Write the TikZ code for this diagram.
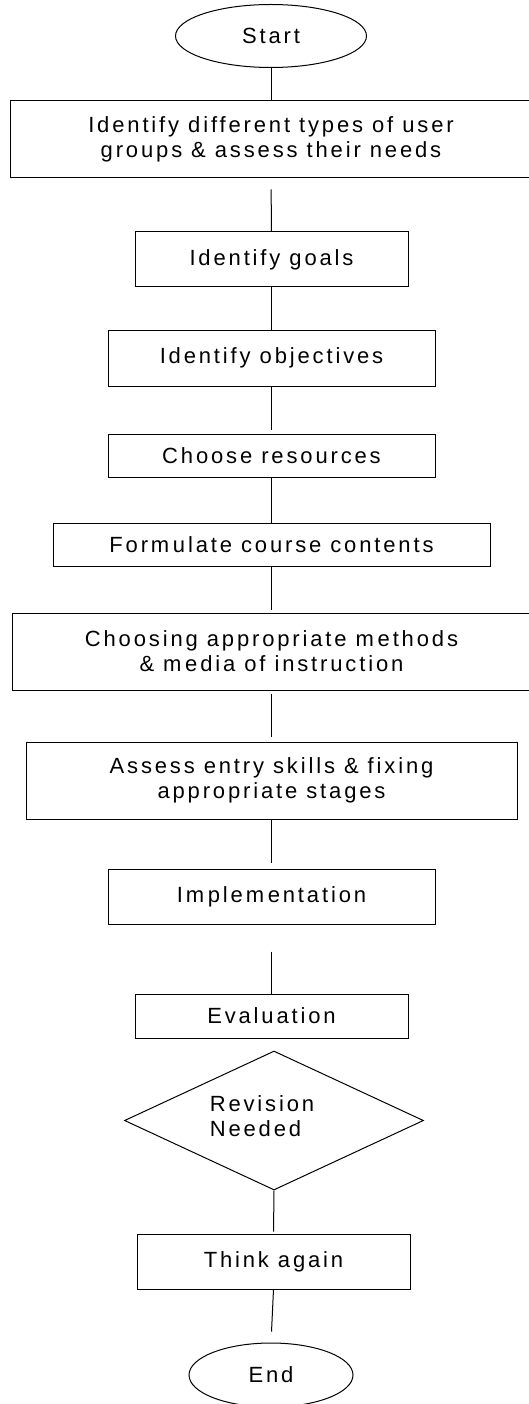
\documentclass[tikz,border=0pt]{standalone}
\usepackage{fontspec}
\setmainfont{Liberation Sans}[LetterSpace=13]
\usetikzlibrary{shapes.geometric}

\begin{document}
\begin{tikzpicture}[x=1pt, y=-1pt,
  stepbox/.style={draw, line width=1pt, inner sep=0pt, align=center,
                  font=\fontsize{22}{25}\selectfont},
  term/.style={stepbox, ellipse},
  ask/.style={stepbox, diamond},
  ln/.style={line width=1pt}
]
  \useasboundingbox (0,0) rectangle (528,1404);
  \node[term, minimum width=191pt, minimum height=63pt] (start) at (271,36) {Start};
  \node[stepbox, minimum width=522pt, minimum height=77pt] (users) at (271,139.5)
    {Identify different types of user\\groups \& assess their needs};
  \node[stepbox, minimum width=273pt, minimum height=55pt] (goals) at (271.5,259.5) {Identify goals};
  \node[stepbox, minimum width=327pt, minimum height=56pt] (objectives) at (271.5,358) {Identify objectives};
  \node[stepbox, minimum width=327pt, minimum height=43pt] (resources) at (271.5,455.5) {Choose resources};
  \node[stepbox, minimum width=437pt, minimum height=43pt] (contents) at (271.5,544.5) {Form\,ulate course contents};
  \node[stepbox, minimum width=519pt, minimum height=77pt] (methods) at (271.5,651.5)
    {Choosing appropriate m\,ethods\\\& m\,edia of instruction};
  \node[stepbox, minimum width=491pt, minimum height=77pt] (stages) at (271.5,780.5)
    {Assess entry skills \& fixing\\appropriate stages};
  \node[stepbox, minimum width=327pt, minimum height=55pt] (impl) at (271.5,896.5) {Im\,plem\,entation};
  \node[stepbox, minimum width=273pt, minimum height=44pt] (eval) at (271.5,1016) {Evaluation};
  \node[ask, minimum width=299pt, minimum height=139pt] (revision) at (274,1120.5) {};
  \node[font=\fontsize{22}{25}\selectfont, align=left, inner sep=0pt] (revtext)
    at ([xshift=-12pt, yshift=4pt]revision.center) {Revision\\Needed};
  \node[stepbox, minimum width=273pt, minimum height=55pt] (think) at (273.5,1261.5) {Think again};
  \node[term, minimum width=164pt, minimum height=64pt] (end) at (271,1375) {End};

  % connectors
  \draw[ln] (start.south) -- (users.north);
  \draw[ln, shorten <=11pt] (users.south) -- (goals.north);
  \draw[ln] (goals.south) -- (objectives.north);
  \draw[ln, shorten >=4pt] (objectives.south) -- (resources.north);
  \draw[ln] (resources.south) -- (contents.north);
  \draw[ln, shorten >=3pt] (contents.south) -- (methods.north);
  \draw[ln, shorten <=3pt, shorten >=5pt] (methods.south) -- (stages.north);
  \draw[ln, shorten >=6pt] (stages.south) -- (impl.north);
  \draw[ln, shorten <=27pt] (impl.south) -- (eval.north);
  \draw[ln, shorten >=2pt] (revision.south) -- (think.north);
  \draw[ln, shorten >=11pt] (think.south) -- (end.north);
\end{tikzpicture}
\end{document}
